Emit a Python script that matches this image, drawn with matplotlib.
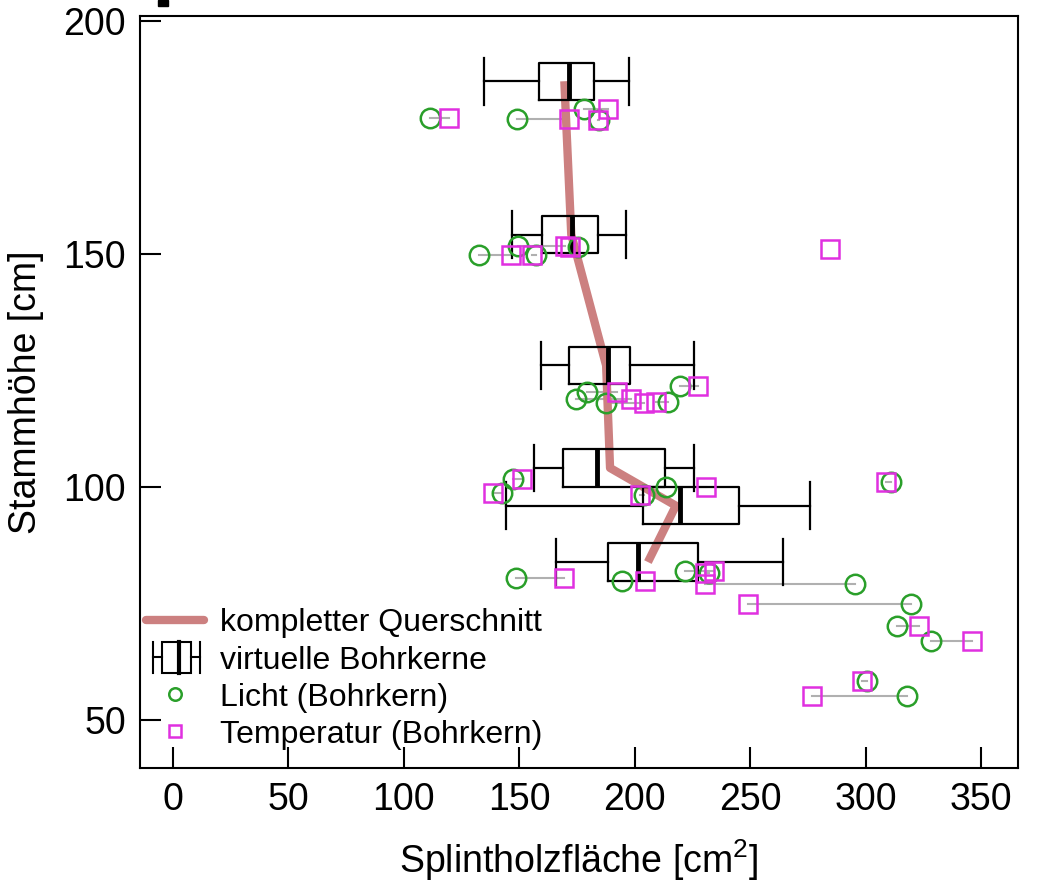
import matplotlib.pyplot as plt
from matplotlib.legend_handler import HandlerBase
from matplotlib.lines import Line2D
from matplotlib.patches import Rectangle

plt.rcParams['font.family'] = ['Liberation Sans', 'DejaVu Sans']
plt.rcParams['mathtext.default'] = 'regular'

# heights of the virtual cores (box centres) and the full cross-section
hoehe = [187.1, 154.2, 126.1, 104.1, 96.0, 83.9]
querschnitt = [169.5, 172.5, 187.6, 189.3, 217.8, 205.7]

# virtual cores: five-number summary per height
whisk_lo = [134.8, 146.9, 159.4, 156.4, 144.3, 165.9]
q1 = [158.6, 159.9, 171.6, 169.0, 203.5, 188.4]
median = [171.6, 172.9, 188.4, 183.7, 219.5, 201.4]
q3 = [182.4, 184.1, 197.9, 213.1, 245.0, 227.3]
whisk_hi = [197.5, 196.2, 225.6, 225.6, 275.7, 264.0]

# real cores: height, light method, temperature method
kern_hoehe = [179.3, 179.1, 181.1, 178.8,
              149.9, 149.8, 151.8, 151.5, 151.0,
              121.7, 120.5, 118.9, 118.1, 118.3,
              101.7, 98.7, 98.2, 100.1, 101.1,
              80.4, 79.9, 82.0, 81.6, 79.2, 74.8, 70.2, 66.9, 58.4, 55.2]
licht = [111.1, 149.2, 177.8, 184.5,
         132.7, 157.1, 149.6, 175.5, float('nan'),
         219.5, 179.5, 174.4, 187.4, 214.5,
         147.4, 142.7, 204.0, 213.4, 311.0,
         148.5, 194.3, 221.7, 232.0, 295.4, 319.5, 313.7, 328.5, 300.8, 318.1]
temperatur = [119.7, 171.5, 188.3, 184.2,
              146.3, 155.5, 170.0, 172.0, 284.4,
              227.3, 192.5, 198.3, 204.0, 209.0,
              151.1, 138.4, 202.1, 230.9, 309.0,
              169.4, 204.4, 234.2, 230.6, 230.6, 248.9, 323.1, 346.2, 298.3, 276.7]

green = '#2a9f2a'
pink = '#e030e0'
rose = '#cc8080'


class BoxKeyHandler(HandlerBase):
    # small horizontal boxplot symbol for the legend
    def create_artists(self, legend, orig_handle, xdescent, ydescent,
                       width, height, fontsize, trans):
        x0 = -xdescent
        ym = -ydescent + height / 2
        h = height * 0.7
        xs = [x0 + f * width for f in (0.12, 0.28, 0.57, 0.78, 0.94)]
        kw = dict(color='k', lw=1.5, transform=trans)
        arts = [
            Line2D([xs[0], xs[0]], [ym - h, ym + h], **kw),
            Line2D([xs[4], xs[4]], [ym - h, ym + h], **kw),
            Line2D([xs[0], xs[1]], [ym, ym], **kw),
            Line2D([xs[3], xs[4]], [ym, ym], **kw),
            Rectangle((xs[1], ym - h), xs[3] - xs[1], 2 * h, fill=False,
                      ec='k', lw=1.5, transform=trans),
            Line2D([xs[2], xs[2]], [ym - h, ym + h], color='k', lw=3,
                   transform=trans),
        ]
        return arts


fig = plt.figure(figsize=(10.42, 8.92), dpi=100)
ax = fig.add_axes([140 / 1042, 1 - 768 / 892, (1018 - 140) / 1042, (768 - 16) / 892])

# connectors between the two methods of one core
for h, l, t in zip(kern_hoehe, licht, temperatur):
    if l == l:
        ax.plot([l, t], [h, h], color='#b0b0b0', lw=1.5, zorder=1)

ax.plot(querschnitt, hoehe, color=rose, lw=6, solid_capstyle='butt', zorder=2)

stats = []
for i in range(len(hoehe)):
    stats.append(dict(whislo=whisk_lo[i], q1=q1[i], med=median[i],
                      q3=q3[i], whishi=whisk_hi[i], fliers=[]))
lp = dict(color='k', lw=1.6)
ax.bxp(stats, positions=hoehe, widths=8, capwidths=10,
       orientation='horizontal', showfliers=False,
       boxprops=lp, whiskerprops=lp, capprops=lp,
       medianprops=dict(color='k', lw=3.5), manage_ticks=False, zorder=3)

ax.plot(licht, kern_hoehe, ls='none', marker='o', ms=14, mfc='none',
        mec=green, mew=1.8, zorder=4)
ax.plot(temperatur, kern_hoehe, ls='none', marker='s', ms=13, mfc='none',
        mec=pink, mew=1.8, zorder=4)

ax.set_xlim(-14.3, 366)
ax.set_ylim(39.7, 201.1)
ax.set_xticks([0, 50, 100, 150, 200, 250, 300, 350])
ax.set_yticks([50, 100, 150, 200])
ax.tick_params(direction='in', length=15, width=1.5, labelsize=27, pad=10)
for s in ax.spines.values():
    s.set_linewidth(1.5)

ax.set_xlabel('Splintholzfläche [cm$^2$]', fontsize=27, labelpad=14)
ax.set_ylabel('Stammhöhe [cm]', fontsize=27, labelpad=14)

handles = [
    Line2D([], [], color=rose, lw=6, solid_capstyle='round'),
    'box',
    Line2D([], [], ls='none', marker='o', ms=9, mfc='none', mec=green, mew=1.8),
    Line2D([], [], ls='none', marker='s', ms=9, mfc='none', mec=pink, mew=1.8),
]
labels = ['kompletter Querschnitt', 'virtuelle Bohrkerne',
          'Licht (Bohrkern)', 'Temperatur (Bohrkern)']
ax.legend(handles, labels, handler_map={str: BoxKeyHandler()},
          loc='lower left', bbox_to_anchor=(0.0, 0.016), frameon=False,
          fontsize=23, handlelength=1.8, handletextpad=0.5,
          labelspacing=0.22, borderaxespad=0.0, borderpad=0.2)

# clipped mark above the frame
fig.add_artist(Rectangle((158 / 1042, 1 - 6 / 892), 10 / 1042, 6 / 892,
                         transform=fig.transFigure, color='k'))

fig.savefig('out.png', dpi=100)
